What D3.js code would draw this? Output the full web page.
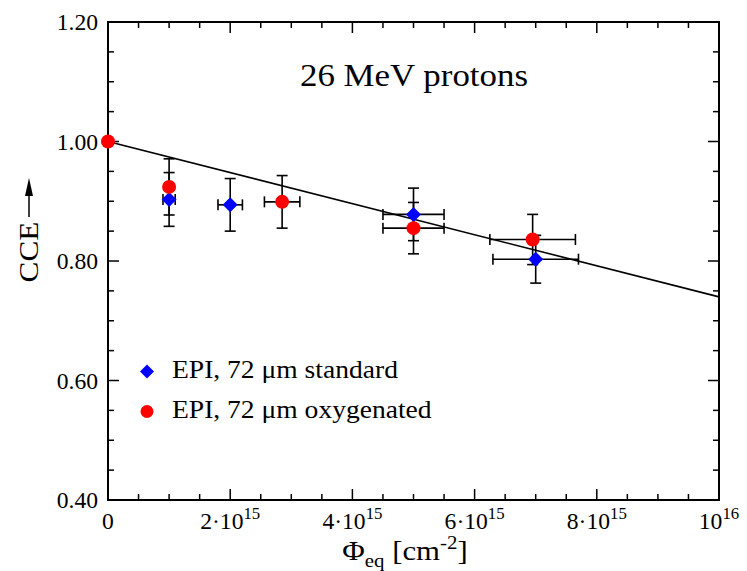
<!DOCTYPE html>
<html>
<head>
<meta charset="utf-8">
<script src="https://cdn.jsdelivr.net/npm/d3@7"></script>
<style>
  html, body { margin: 0; padding: 0; background: #fff; }
  svg { display: block; }
  text { font-family: "Liberation Serif", "Times New Roman", serif; fill: #000; }
</style>
</head>
<body>
<svg id="chart" width="747" height="571"></svg>
<script>
// ---- data ----
const stdX    = [1e15, 2e15, 5e15, 7e15];
const stdY    = [0.903, 0.894, 0.878, 0.803];
const stdXErr = [0.1e15, 0.2e15, 0.5e15, 0.7e15];
const stdYErr = [0.045, 0.044, 0.044, 0.040];

const oxyX    = [0, 1e15, 2.85e15, 5e15, 6.95e15];
const oxyY    = [1.000, 0.924, 0.899, 0.855, 0.836];
const oxyXErr = [0, 0, 0.29e15, 0.5e15, 0.7e15];
const oxyYErr = [0, 0.047, 0.044, 0.043, 0.042];

const fitX = [0, 1e16];
const fitY = [1.000, 0.740];

const xMajorTicks = [0, 2e15, 4e15, 6e15, 8e15, 1e16];
const xTickMant   = ["0", "2·10", "4·10", "6·10", "8·10", "10"];
const xTickExp    = ["", "15", "15", "15", "15", "16"];
const yMajorTicks = [0.40, 0.60, 0.80, 1.00, 1.20];
const yTickLabels = ["0.40", "0.60", "0.80", "1.00", "1.20"];

const titleText = "26 MeV protons";
const legendLabels = ["EPI, 72 μm standard", "EPI, 72 μm oxygenated"];

// ---- layout ----
const svg = d3.select("#chart");
const L = 108, R = 719, T = 22, B = 500;
const x = d3.scaleLinear().domain([0, 1e16]).range([L, R]);
const y = d3.scaleLinear().domain([0.40, 1.20]).range([B, T]);

const xMinor = d3.range(0, 1e16 + 1, 0.5e15);
const yMinor = d3.range(0.40, 1.2001, 0.05).map(v => +v.toFixed(2));

// text helper with slight horizontal stretch (wide serif look)
function txt(parent, px, py, size, anchor, sx, rot) {
  const r = rot ? ` rotate(${rot})` : "";
  return parent.append("text")
    .attr("transform", `translate(${px},${py})${r} scale(${sx},1)`)
    .attr("font-size", size).attr("text-anchor", anchor);
}

// ticks (inward, all four sides)
const tickG = svg.append("g").attr("stroke", "#000").attr("stroke-width", 1.5);
xMinor.forEach(v => {
  const major = xMajorTicks.some(m => Math.abs(m - v) < 1);
  const len = major ? 11 : 6;
  tickG.append("line").attr("x1", x(v)).attr("x2", x(v)).attr("y1", B).attr("y2", B - len);
  tickG.append("line").attr("x1", x(v)).attr("x2", x(v)).attr("y1", T).attr("y2", T + len);
});
yMinor.forEach(v => {
  const major = yMajorTicks.some(m => Math.abs(m - v) < 1e-6);
  const len = major ? 11 : 6;
  tickG.append("line").attr("x1", L).attr("x2", L + len).attr("y1", y(v)).attr("y2", y(v));
  tickG.append("line").attr("x1", R).attr("x2", R - len).attr("y1", y(v)).attr("y2", y(v));
});

// frame
svg.append("rect").attr("x", L).attr("y", T).attr("width", R - L).attr("height", B - T)
  .attr("fill", "none").attr("stroke", "#000").attr("stroke-width", 2);

// y tick labels
const yg = svg.append("g");
yMajorTicks.forEach((d, i) => {
  txt(yg, L - 10, y(d) + 8, 22.5, "end", 1.05).text(yTickLabels[i]);
});

// x tick labels
const xg = svg.append("g");
xMajorTicks.forEach((d, i) => {
  const t = txt(xg, x(d), 529, 22.5, "middle", 1.05);
  t.append("tspan").text(xTickMant[i]);
  if (xTickExp[i]) t.append("tspan").attr("dy", -10).attr("font-size", 16).text(xTickExp[i]);
});

// x axis label
const xlab = txt(svg, 405, 560, 28, "middle", 1.1);
xlab.append("tspan").text("Φ");
xlab.append("tspan").attr("dy", 7).attr("font-size", 19).text("eq");
xlab.append("tspan").attr("dy", -7).text(" [cm");
xlab.append("tspan").attr("dy", -11).attr("font-size", 19).text("-2");
xlab.append("tspan").attr("dy", 11).text("]");

// y axis label with arrow
txt(svg, 38, 252, 28, "middle", 1.12, -90).text("CCE");
svg.append("line").attr("x1", 29).attr("x2", 29).attr("y1", 217).attr("y2", 194)
  .attr("stroke", "#000").attr("stroke-width", 1.5);
svg.append("path").attr("d", "M29,178 L25,196 L33,196 Z").attr("fill", "#000");

// title
txt(svg, 414, 86, 32, "middle", 1.09).text(titleText);

// fit line
svg.append("path")
  .datum(fitX.map((v, i) => [v, fitY[i]]))
  .attr("d", d3.line().x(d => x(d[0])).y(d => y(d[1])))
  .attr("fill", "none").attr("stroke", "#000").attr("stroke-width", 1.6);

// error bars
function errorBars(xs, ys, xe, ye) {
  const g = svg.append("g").attr("stroke", "#000").attr("stroke-width", 1.6);
  const cap = 5.5;
  xs.forEach((xv, i) => {
    const cx = x(xv), cy = y(ys[i]);
    if (ye[i] > 0) {
      const y1 = y(ys[i] + ye[i]), y2 = y(ys[i] - ye[i]);
      g.append("line").attr("x1", cx).attr("x2", cx).attr("y1", y1).attr("y2", y2);
      g.append("line").attr("x1", cx - cap).attr("x2", cx + cap).attr("y1", y1).attr("y2", y1);
      g.append("line").attr("x1", cx - cap).attr("x2", cx + cap).attr("y1", y2).attr("y2", y2);
    }
    if (xe[i] > 0) {
      const x1 = x(xv - xe[i]), x2 = x(xv + xe[i]);
      g.append("line").attr("x1", x1).attr("x2", x2).attr("y1", cy).attr("y2", cy);
      g.append("line").attr("x1", x1).attr("x2", x1).attr("y1", cy - cap).attr("y2", cy + cap);
      g.append("line").attr("x1", x2).attr("x2", x2).attr("y1", cy - cap).attr("y2", cy + cap);
    }
  });
}
errorBars(stdX, stdY, stdXErr, stdYErr);
errorBars(oxyX, oxyY, oxyXErr, oxyYErr);

// markers
const diamond = (cx, cy, r) => `M${cx},${cy - r} L${cx + r},${cy} L${cx},${cy + r} L${cx - r},${cy} Z`;
svg.append("g").selectAll("path").data(stdX).join("path")
  .attr("d", (d, i) => diamond(x(d), y(stdY[i]), 7.5))
  .attr("fill", "#0000ff");
svg.append("g").selectAll("circle").data(oxyX).join("circle")
  .attr("cx", d => x(d)).attr("cy", (d, i) => y(oxyY[i])).attr("r", 7)
  .attr("fill", "#ff0000");

// legend
svg.append("path").attr("d", diamond(147, 371.5, 7)).attr("fill", "#0000ff");
svg.append("circle").attr("cx", 147).attr("cy", 411.5).attr("r", 6.5).attr("fill", "#ff0000");
txt(svg, 172, 377.5, 26, "start", 1.06).text(legendLabels[0]);
txt(svg, 172, 417.5, 26, "start", 1.06).text(legendLabels[1]);
</script>
</body>
</html>
